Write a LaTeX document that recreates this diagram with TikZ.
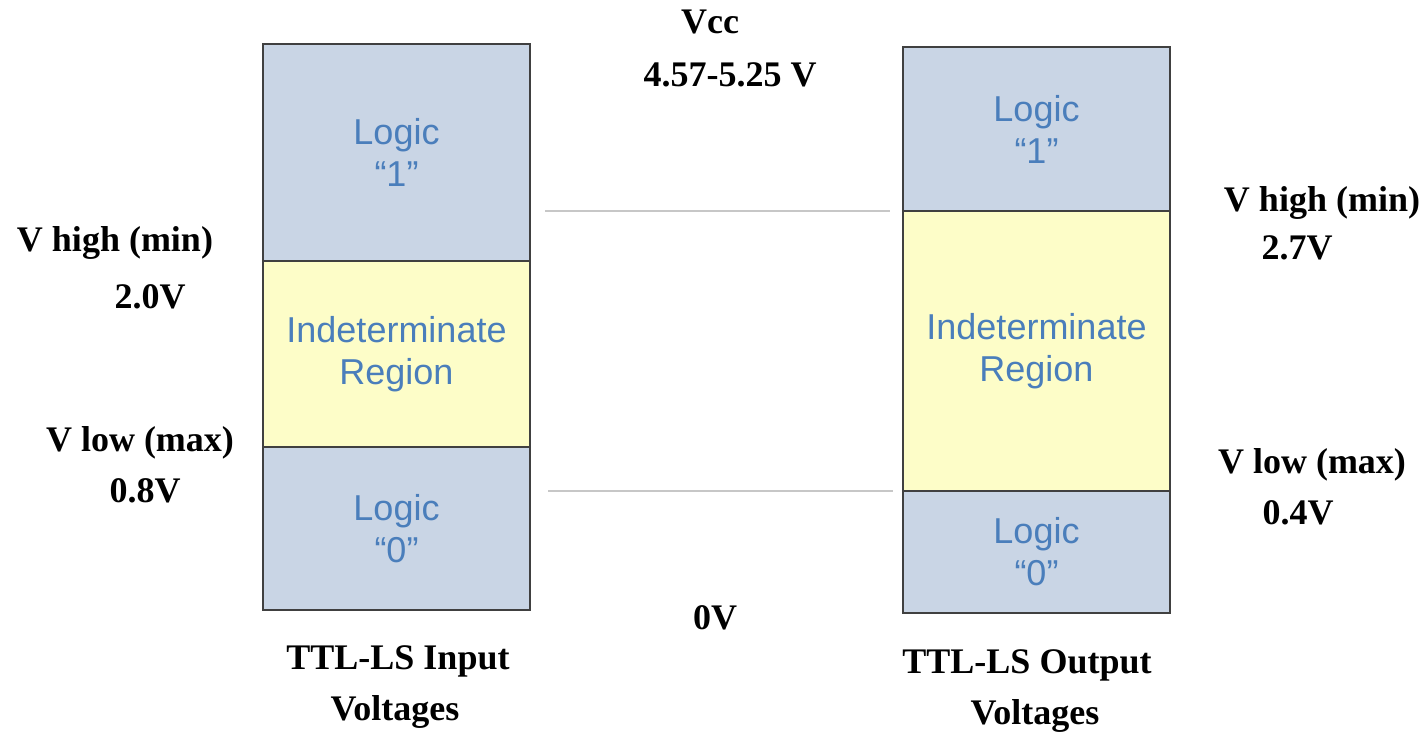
\documentclass[tikz,border=0pt]{standalone}
\usepackage{fontspec}
\setmainfont{Liberation Serif}
\setsansfont{Liberation Sans}
\begin{document}
\begin{tikzpicture}[x=1pt,y=-1pt,
  seg/.style={draw=black!75,line width=2pt,minimum width=267pt,inner sep=0pt,outer sep=0pt,
     font=\sffamily\fontsize{36}{42}\selectfont,text=lblue,align=center},
  hi/.style={seg,fill=lgblue},
  mid/.style={seg,fill=lyellow},
  lab/.style={font=\bfseries\fontsize{36}{40}\selectfont,inner sep=0pt,align=center},
  guide/.style={draw=black!22,line width=2pt}]
\definecolor{lgblue}{HTML}{C9D5E5}
\definecolor{lyellow}{HTML}{FDFDC8}
\definecolor{lblue}{HTML}{4A7EBB}
\useasboundingbox (0,0) rectangle (1425,732);
% left column
\node[hi,minimum height=217pt,anchor=north west] (l1) at (263,44) {Logic\\``1''};
\node[mid,minimum height=186pt,anchor=north] (li) at (l1.south) {Indeterminate\\Region};
\node[hi,minimum height=163pt,anchor=north] (l0) at (li.south) {Logic\\``0''};
% right column
\node[hi,minimum height=164pt,anchor=north west] (r1) at (903,47) {Logic\\``1''};
\node[mid,minimum height=280pt,anchor=north] (ri) at (r1.south) {Indeterminate\\Region};
\node[hi,minimum height=122pt,anchor=north] (r0) at (ri.south) {Logic\\``0''};
% guide lines
\coordinate (ga) at (545,211);
\coordinate (gb) at (548,491);
\draw[guide] (ga) -- ([xshift=-13pt]ri.north west);
\draw[guide] (gb) -- ([xshift=-10pt]ri.south west);
% labels
\node[lab] (vcc) at (710,22) {Vcc};
\node[lab] (vccv) at (730,75) {4.57-5.25 V};
\node[lab] (zero) at (715,618) {0V};
\node[lab] (lvh) at (115,243) {V high (min)};
\node[lab] (lvhv) at (150,297) {2.0V};
\node[lab] (lvl) at (140,443) {V low (max)};
\node[lab] (lvlv) at (145,491) {0.8V};
\node[lab] (rvh) at (1322,203) {V high (min)};
\node[lab] (rvhv) at (1297,248) {2.7V};
\node[lab] (rvl) at (1312,465) {V low (max)};
\node[lab] (rvlv) at (1298,513) {0.4V};
\node[lab] (tin) at (398,661) {TTL-LS Input};
\node[lab] (tinv) at (395,712) {Voltages};
\node[lab] (tout) at (1027,665) {TTL-LS Output};
\node[lab] (toutv) at (1035,716) {Voltages};
\end{tikzpicture}
\end{document}
